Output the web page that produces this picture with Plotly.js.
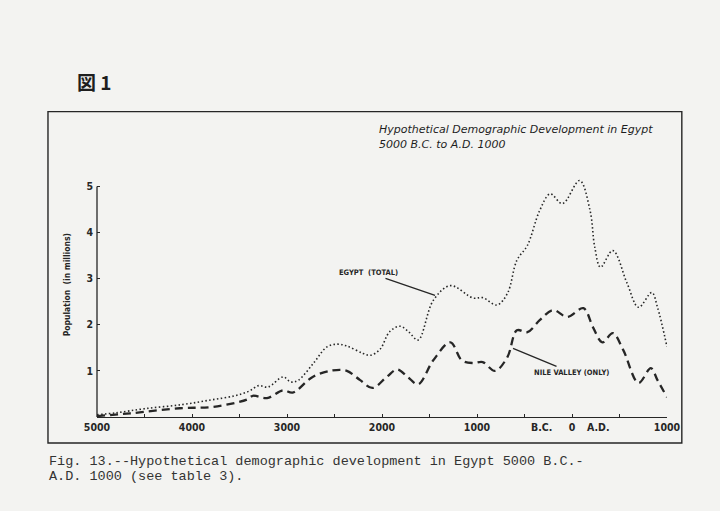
<!DOCTYPE html>
<html>
<head>
<meta charset="utf-8">
<script src="https://cdn.plot.ly/plotly-3.0.1.min.js"></script>
<style>
html,body{margin:0;padding:0;background:#f3f3f1;}
#chart{width:720px;height:511px;}
</style>
</head>
<body>
<div id="chart"></div>
<script>
// Years (negative = B.C.) and population in millions
const egyptYears = [-5000,-4800,-4500,-4100,-3800,-3550,-3400,-3300,-3200,-3040,-2960,-2880,-2720,-2580,-2470,-2370,-2200,-2120,-2020,-1920,-1810,-1720,-1620,-1460,-1280,-1040,-940,-790,-680,-580,-470,-340,-230,-100,80,190,240,300,430,580,700,840,900,1000];
const egyptTotal = [0.05,0.09,0.18,0.27,0.37,0.46,0.56,0.68,0.65,0.87,0.76,0.80,1.17,1.52,1.58,1.54,1.38,1.34,1.47,1.85,1.97,1.85,1.67,2.53,2.85,2.58,2.59,2.43,2.68,3.40,3.72,4.48,4.84,4.63,5.13,4.48,3.68,3.25,3.61,2.90,2.38,2.70,2.38,1.52];

const nileYears = [-5000,-4650,-4130,-3780,-3420,-3360,-3210,-3040,-2940,-2730,-2520,-2370,-2230,-2100,-1950,-1840,-1730,-1620,-1460,-1280,-1160,-1040,-940,-810,-680,-580,-470,-340,-200,-50,120,220,320,430,540,700,830,900,1000];
const nileValley = [0.02,0.08,0.19,0.22,0.38,0.46,0.41,0.58,0.53,0.87,1.01,1.00,0.80,0.63,0.87,1.03,0.87,0.71,1.23,1.62,1.23,1.17,1.19,1.00,1.30,1.88,1.84,2.10,2.32,2.17,2.36,1.95,1.62,1.82,1.45,0.74,1.06,0.80,0.43];

const xTickVals = [-5000,-4500,-4000,-3500,-3000,-2500,-2000,-1500,-1000,-500,0,500,1000];
const xTickText = ["5000","","4000","","3000","","2000","","1000","","0","","1000"];
const yTickVals = [1,2,3,4,5];
const yTickText = ["1","2","3","4","5"];

const ink = '#262626';
const condensed = '"DejaVu Sans Condensed", "DejaVu Sans", sans-serif';

const traces = [
  {x: egyptYears, y: egyptTotal, mode: 'lines', name: 'Egypt (total)',
   line: {color: ink, width: 1.6, dash: '1.5px,2.4px', shape: 'spline', smoothing: 1}},
  {x: nileYears, y: nileValley, mode: 'lines', name: 'Nile valley (only)',
   line: {color: ink, width: 2.3, dash: '8px,5px', shape: 'spline', smoothing: 1}}
];

const layout = {
  width: 720, height: 511,
  paper_bgcolor: '#f3f3f1', plot_bgcolor: 'rgba(0,0,0,0)',
  margin: {l: 97, r: 53, t: 174.5, b: 94, pad: 0},
  showlegend: false,
  xaxis: {
    range: [-5000, 1000], showgrid: false, zeroline: false,
    showline: true, linecolor: ink, linewidth: 1.3,
    tickvals: xTickVals, ticktext: xTickText,
    ticks: 'inside', ticklen: 3, tickcolor: ink, tickwidth: 1,
    tickfont: {family: condensed, size: 10.5, color: ink, weight: 'bold'}
  },
  yaxis: {
    range: [0, 5.25], showgrid: false, zeroline: false,
    showline: false,
    tickvals: yTickVals, ticktext: yTickText,
    ticks: 'inside', ticklen: 3, tickcolor: ink, tickwidth: 1,
    ticklabelstandoff: 3,
    tickfont: {family: condensed, size: 10.5, color: ink, weight: 'bold'}
  },
  shapes: [
    {type: 'line', xref: 'paper', yref: 'y', x0: 0, x1: 0, y0: 0, y1: 5,
     line: {color: ink, width: 1.3}},
    {type: 'rect', xref: 'paper', yref: 'paper', x0: -0.086, x1: 1.026, y0: -0.1072, y1: 1.2619,
     line: {color: ink, width: 1.4}, fillcolor: 'rgba(0,0,0,0)'}
  ],
  annotations: [
    {xref: 'paper', yref: 'paper', x: -0.0386, y: 1.3856, xanchor: 'left', yanchor: 'middle',
     text: '<b>図 1</b>', showarrow: false,
     font: {family: '"Noto Sans CJK JP", "Noto Sans", sans-serif', size: 19, color: '#1e1e1e'}},
    {xref: 'paper', yref: 'paper', x: 0.491, y: 1.1876, xanchor: 'left', yanchor: 'middle',
     text: '<i>Hypothetical Demographic Development in Egypt</i>', showarrow: false,
     font: {family: '"DejaVu Sans", sans-serif', size: 11, color: '#1e1e1e'}},
    {xref: 'paper', yref: 'paper', x: 0.491, y: 1.1258, xanchor: 'left', yanchor: 'middle',
     text: '<i>5000 B.C. to A.D. 1000</i>', showarrow: false,
     font: {family: '"DejaVu Sans", sans-serif', size: 11, color: '#1e1e1e'}},
    {xref: 'paper', yref: 'paper', x: -0.0526, y: 0.5443, xanchor: 'center', yanchor: 'middle',
     text: '<b>Population  (in millions)</b>', showarrow: false, textangle: -90,
     font: {family: condensed, size: 8.5, color: ink}},
    {xref: 'x', yref: 'paper', x: -316, y: -0.0412, xanchor: 'center', yanchor: 'middle',
     text: '<b>B.C.</b>', showarrow: false,
     font: {family: condensed, size: 10.5, color: ink}},
    {xref: 'x', yref: 'paper', x: 284, y: -0.0412, xanchor: 'center', yanchor: 'middle',
     text: '<b>A.D.</b>', showarrow: false,
     font: {family: condensed, size: 10.5, color: ink}},
    {xref: 'x', yref: 'y', x: -1442, y: 2.64, ax: -67, ay: -23,
     text: '<b>EGYPT  (TOTAL)</b>', showarrow: true, arrowhead: 0, arrowwidth: 1.3, arrowcolor: ink,
     font: {family: condensed, size: 7.5, color: ink}},
    {xref: 'x', yref: 'y', x: -621, y: 1.49, ax: 58, ay: 24,
     text: '<b>NILE VALLEY (ONLY)</b>', showarrow: true, arrowhead: 0, arrowwidth: 1.3, arrowcolor: ink,
     font: {family: condensed, size: 7.5, color: ink}},
    {xref: 'paper', yref: 'paper', x: -0.0877, y: -0.1856, xanchor: 'left', yanchor: 'middle',
     text: 'Fig. 13.--Hypothetical demographic development in Egypt 5000 B.C.-', showarrow: false,
     font: {family: '"Liberation Mono", "DejaVu Sans Mono", monospace', size: 13.5, color: '#333'}},
    {xref: 'paper', yref: 'paper', x: -0.0877, y: -0.2474, xanchor: 'left', yanchor: 'middle',
     text: 'A.D. 1000 (see table 3).', showarrow: false,
     font: {family: '"Liberation Mono", "DejaVu Sans Mono", monospace', size: 13.5, color: '#333'}}
  ]
};

Plotly.newPlot('chart', traces, layout, {staticPlot: true, displayModeBar: false});
</script>
</body>
</html>
